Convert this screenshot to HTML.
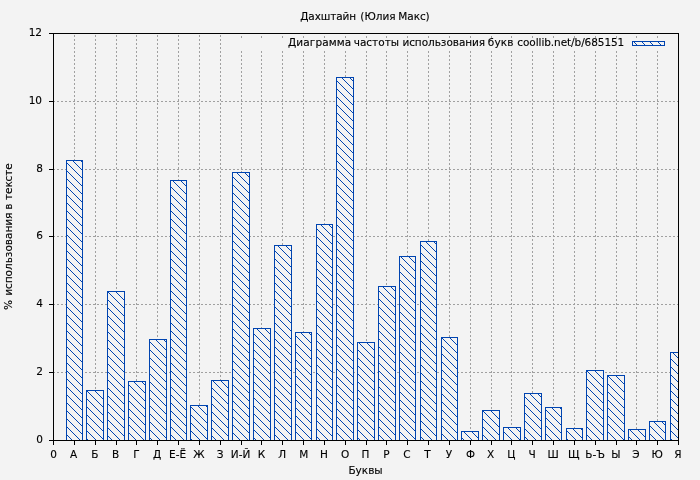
<!DOCTYPE html>
<html lang="ru"><head><meta charset="utf-8"><title>Дахштайн (Юлия Макс)</title>
<style>html,body{margin:0;padding:0;background:#f3f3f3;overflow:hidden}svg{display:block}text{font-family:"DejaVu Sans","Liberation Sans",sans-serif;font-size:10.5px;fill:#000;stroke:#000;stroke-width:0.12px}</style></head><body>
<svg width="700" height="480" viewBox="0 0 700 480">
<defs><pattern id="h" width="8" height="8" patternUnits="userSpaceOnUse"><path d="M-1,-1 L9,9 M-1,7 L1,9 M7,-1 L9,1" stroke="#0044b0" stroke-width="1" fill="none"/></pattern>
<clipPath id="c"><rect x="53.50" y="33.50" width="625.50" height="407.00"/></clipPath></defs>
<rect width="700" height="480" fill="#f3f3f3"/>
<path d="M74.50,441 V33 M95.50,441 V33 M116.50,441 V33 M136.50,441 V33 M157.50,441 V33 M178.50,441 V33 M199.50,441 V33 M220.50,441 V33 M241.50,441 V51 M241.50,38 V33 M261.50,441 V51 M261.50,38 V33 M282.50,441 V51 M282.50,38 V33 M303.50,441 V51 M303.50,38 V33 M324.50,441 V51 M324.50,38 V33 M345.50,441 V51 M345.50,38 V33 M366.50,441 V51 M366.50,38 V33 M386.50,441 V51 M386.50,38 V33 M407.50,441 V51 M407.50,38 V33 M428.50,441 V51 M428.50,38 V33 M449.50,441 V51 M449.50,38 V33 M470.50,441 V51 M470.50,38 V33 M491.50,441 V51 M491.50,38 V33 M511.50,441 V51 M511.50,38 V33 M532.50,441 V51 M532.50,38 V33 M553.50,441 V51 M553.50,38 V33 M574.50,441 V51 M574.50,38 V33 M595.50,441 V51 M595.50,38 V33 M616.50,441 V51 M616.50,38 V33 M636.50,441 V51 M636.50,38 V33 M657.50,441 V51 M657.50,38 V33 M53,372.50 H679 M53,304.50 H679 M53,236.50 H679 M53,169.50 H679 M53,101.50 H679" stroke="#a0a0a0" stroke-width="1" stroke-dasharray="2 2" fill="none" shape-rendering="crispEdges"/>
<g clip-path="url(#c)">
<rect x="66.5" y="160.5" width="16.0" height="280.0" fill="#f3f3f3"/>
<rect x="66.5" y="160.5" width="16.0" height="280.0" fill="url(#h)" stroke="#0044b0" stroke-width="1"/>
<rect x="86.5" y="390.5" width="17.0" height="50.0" fill="#f3f3f3"/>
<rect x="86.5" y="390.5" width="17.0" height="50.0" fill="url(#h)" stroke="#0044b0" stroke-width="1"/>
<rect x="107.5" y="291.5" width="17.0" height="149.0" fill="#f3f3f3"/>
<rect x="107.5" y="291.5" width="17.0" height="149.0" fill="url(#h)" stroke="#0044b0" stroke-width="1"/>
<rect x="128.5" y="381.5" width="17.0" height="59.0" fill="#f3f3f3"/>
<rect x="128.5" y="381.5" width="17.0" height="59.0" fill="url(#h)" stroke="#0044b0" stroke-width="1"/>
<rect x="149.5" y="339.5" width="17.0" height="101.0" fill="#f3f3f3"/>
<rect x="149.5" y="339.5" width="17.0" height="101.0" fill="url(#h)" stroke="#0044b0" stroke-width="1"/>
<rect x="170.5" y="180.5" width="16.0" height="260.0" fill="#f3f3f3"/>
<rect x="170.5" y="180.5" width="16.0" height="260.0" fill="url(#h)" stroke="#0044b0" stroke-width="1"/>
<rect x="190.5" y="405.5" width="17.0" height="35.0" fill="#f3f3f3"/>
<rect x="190.5" y="405.5" width="17.0" height="35.0" fill="url(#h)" stroke="#0044b0" stroke-width="1"/>
<rect x="211.5" y="380.5" width="17.0" height="60.0" fill="#f3f3f3"/>
<rect x="211.5" y="380.5" width="17.0" height="60.0" fill="url(#h)" stroke="#0044b0" stroke-width="1"/>
<rect x="232.5" y="172.5" width="17.0" height="268.0" fill="#f3f3f3"/>
<rect x="232.5" y="172.5" width="17.0" height="268.0" fill="url(#h)" stroke="#0044b0" stroke-width="1"/>
<rect x="253.5" y="328.5" width="17.0" height="112.0" fill="#f3f3f3"/>
<rect x="253.5" y="328.5" width="17.0" height="112.0" fill="url(#h)" stroke="#0044b0" stroke-width="1"/>
<rect x="274.5" y="245.5" width="17.0" height="195.0" fill="#f3f3f3"/>
<rect x="274.5" y="245.5" width="17.0" height="195.0" fill="url(#h)" stroke="#0044b0" stroke-width="1"/>
<rect x="295.5" y="332.5" width="16.0" height="108.0" fill="#f3f3f3"/>
<rect x="295.5" y="332.5" width="16.0" height="108.0" fill="url(#h)" stroke="#0044b0" stroke-width="1"/>
<rect x="316.5" y="224.5" width="16.0" height="216.0" fill="#f3f3f3"/>
<rect x="316.5" y="224.5" width="16.0" height="216.0" fill="url(#h)" stroke="#0044b0" stroke-width="1"/>
<rect x="336.5" y="77.5" width="17.0" height="363.0" fill="#f3f3f3"/>
<rect x="336.5" y="77.5" width="17.0" height="363.0" fill="url(#h)" stroke="#0044b0" stroke-width="1"/>
<rect x="357.5" y="342.5" width="17.0" height="98.0" fill="#f3f3f3"/>
<rect x="357.5" y="342.5" width="17.0" height="98.0" fill="url(#h)" stroke="#0044b0" stroke-width="1"/>
<rect x="378.5" y="286.5" width="17.0" height="154.0" fill="#f3f3f3"/>
<rect x="378.5" y="286.5" width="17.0" height="154.0" fill="url(#h)" stroke="#0044b0" stroke-width="1"/>
<rect x="399.5" y="256.5" width="16.0" height="184.0" fill="#f3f3f3"/>
<rect x="399.5" y="256.5" width="16.0" height="184.0" fill="url(#h)" stroke="#0044b0" stroke-width="1"/>
<rect x="420.5" y="241.5" width="16.0" height="199.0" fill="#f3f3f3"/>
<rect x="420.5" y="241.5" width="16.0" height="199.0" fill="url(#h)" stroke="#0044b0" stroke-width="1"/>
<rect x="441.5" y="337.5" width="16.0" height="103.0" fill="#f3f3f3"/>
<rect x="441.5" y="337.5" width="16.0" height="103.0" fill="url(#h)" stroke="#0044b0" stroke-width="1"/>
<rect x="461.5" y="431.5" width="17.0" height="9.0" fill="#f3f3f3"/>
<rect x="461.5" y="431.5" width="17.0" height="9.0" fill="url(#h)" stroke="#0044b0" stroke-width="1"/>
<rect x="482.5" y="410.5" width="17.0" height="30.0" fill="#f3f3f3"/>
<rect x="482.5" y="410.5" width="17.0" height="30.0" fill="url(#h)" stroke="#0044b0" stroke-width="1"/>
<rect x="503.5" y="427.5" width="17.0" height="13.0" fill="#f3f3f3"/>
<rect x="503.5" y="427.5" width="17.0" height="13.0" fill="url(#h)" stroke="#0044b0" stroke-width="1"/>
<rect x="524.5" y="393.5" width="17.0" height="47.0" fill="#f3f3f3"/>
<rect x="524.5" y="393.5" width="17.0" height="47.0" fill="url(#h)" stroke="#0044b0" stroke-width="1"/>
<rect x="545.5" y="407.5" width="16.0" height="33.0" fill="#f3f3f3"/>
<rect x="545.5" y="407.5" width="16.0" height="33.0" fill="url(#h)" stroke="#0044b0" stroke-width="1"/>
<rect x="566.5" y="428.5" width="16.0" height="12.0" fill="#f3f3f3"/>
<rect x="566.5" y="428.5" width="16.0" height="12.0" fill="url(#h)" stroke="#0044b0" stroke-width="1"/>
<rect x="586.5" y="370.5" width="17.0" height="70.0" fill="#f3f3f3"/>
<rect x="586.5" y="370.5" width="17.0" height="70.0" fill="url(#h)" stroke="#0044b0" stroke-width="1"/>
<rect x="607.5" y="375.5" width="17.0" height="65.0" fill="#f3f3f3"/>
<rect x="607.5" y="375.5" width="17.0" height="65.0" fill="url(#h)" stroke="#0044b0" stroke-width="1"/>
<rect x="628.5" y="429.5" width="17.0" height="11.0" fill="#f3f3f3"/>
<rect x="628.5" y="429.5" width="17.0" height="11.0" fill="url(#h)" stroke="#0044b0" stroke-width="1"/>
<rect x="649.5" y="421.5" width="16.0" height="19.0" fill="#f3f3f3"/>
<rect x="649.5" y="421.5" width="16.0" height="19.0" fill="url(#h)" stroke="#0044b0" stroke-width="1"/>
<rect x="670.5" y="352.5" width="16.0" height="88.0" fill="#f3f3f3"/>
<rect x="670.5" y="352.5" width="16.0" height="88.0" fill="url(#h)" stroke="#0044b0" stroke-width="1"/>
</g>
<rect x="632.5" y="41.5" width="32" height="4" fill="url(#h)" stroke="#0044b0" stroke-width="1"/>
<path d="M53.5,33.5 H678.5 V440.5 H53.5 Z M53.50,440.5 v4.5 M74.50,440.5 v4.5 M95.50,440.5 v4.5 M116.50,440.5 v4.5 M136.50,440.5 v4.5 M157.50,440.5 v4.5 M178.50,440.5 v4.5 M199.50,440.5 v4.5 M220.50,440.5 v4.5 M241.50,440.5 v4.5 M261.50,440.5 v4.5 M282.50,440.5 v4.5 M303.50,440.5 v4.5 M324.50,440.5 v4.5 M345.50,440.5 v4.5 M366.50,440.5 v4.5 M386.50,440.5 v4.5 M407.50,440.5 v4.5 M428.50,440.5 v4.5 M449.50,440.5 v4.5 M470.50,440.5 v4.5 M491.50,440.5 v4.5 M511.50,440.5 v4.5 M532.50,440.5 v4.5 M553.50,440.5 v4.5 M574.50,440.5 v4.5 M595.50,440.5 v4.5 M616.50,440.5 v4.5 M636.50,440.5 v4.5 M657.50,440.5 v4.5 M678.50,440.5 v4.5 M53.5,440.50 h-4.5 M53.5,372.50 h-4.5 M53.5,304.50 h-4.5 M53.5,236.50 h-4.5 M53.5,169.50 h-4.5 M53.5,101.50 h-4.5 M53.5,33.50 h-4.5" stroke="#000" stroke-width="1" fill="none" shape-rendering="crispEdges"/>
<text y="20" xml:space="preserve"><tspan x="300.30" textLength="55.70" lengthAdjust="spacing">Дахштайн</tspan> <tspan x="360.35" textLength="35.30" lengthAdjust="spacing">(Юлия</tspan> <tspan x="398.30" textLength="31.40" lengthAdjust="spacing">Макс)</tspan></text>
<text y="46.4" xml:space="preserve"><tspan x="288.00" textLength="63.20" lengthAdjust="spacing">Диаграмма</tspan> <tspan x="353.69" textLength="45.36" lengthAdjust="spacing">частоты</tspan> <tspan x="402.39" textLength="82.80" lengthAdjust="spacing">использования</tspan> <tspan x="487.80" textLength="25.60" lengthAdjust="spacing">букв</tspan> <tspan x="517.30" textLength="107.00" lengthAdjust="spacing">coollib.net/b/685151</tspan></text>
<text x="43" y="443" text-anchor="end">0</text>
<text x="43" y="375" text-anchor="end">2</text>
<text x="43" y="307" text-anchor="end">4</text>
<text x="43" y="239" text-anchor="end">6</text>
<text x="43" y="172" text-anchor="end">8</text>
<text x="42" y="104" text-anchor="end">10</text>
<text x="42" y="36" text-anchor="end">12</text>
<text x="53.6" y="458" text-anchor="middle">0</text>
<text x="73.6" y="458" text-anchor="middle">А</text>
<text x="94.8" y="458" text-anchor="middle">Б</text>
<text x="115.6" y="458" text-anchor="middle">В</text>
<text x="136.4" y="458" text-anchor="middle">Г</text>
<text x="157.2" y="458" text-anchor="middle">Д</text>
<text x="177.6" y="458" text-anchor="middle">Е-Ё</text>
<text x="198.9" y="458" text-anchor="middle">Ж</text>
<text x="220.2" y="458" text-anchor="middle">З</text>
<text x="240.6" y="458" text-anchor="middle">И-Й</text>
<text x="261.4" y="458" text-anchor="middle">К</text>
<text x="282.2" y="458" text-anchor="middle">Л</text>
<text x="303.8" y="458" text-anchor="middle">М</text>
<text x="323.9" y="458" text-anchor="middle">Н</text>
<text x="345.2" y="458" text-anchor="middle">О</text>
<text x="365.5" y="458" text-anchor="middle">П</text>
<text x="386.4" y="458" text-anchor="middle">Р</text>
<text x="406.8" y="458" text-anchor="middle">С</text>
<text x="427.5" y="458" text-anchor="middle">Т</text>
<text x="448.9" y="458" text-anchor="middle">У</text>
<text x="470.4" y="458" text-anchor="middle">Ф</text>
<text x="490.5" y="458" text-anchor="middle">Х</text>
<text x="511.4" y="458" text-anchor="middle">Ц</text>
<text x="532.2" y="458" text-anchor="middle">Ч</text>
<text x="553.0" y="458" text-anchor="middle">Ш</text>
<text x="573.8" y="458" text-anchor="middle">Щ</text>
<text x="595.1" y="458" text-anchor="middle">Ь-Ъ</text>
<text x="616.0" y="458" text-anchor="middle">Ы</text>
<text x="635.8" y="458" text-anchor="middle">Э</text>
<text x="657.2" y="458" text-anchor="middle">Ю</text>
<text x="678.0" y="458" text-anchor="middle">Я</text>
<text x="365.5" y="474" text-anchor="middle">Буквы</text>
<text transform="translate(12,310) rotate(-90)" xml:space="preserve"><tspan x="0.10" textLength="9.98" lengthAdjust="spacing">%</tspan> <tspan x="14.20" textLength="83.20" lengthAdjust="spacing">использования</tspan> <tspan x="100.30" textLength="6.19" lengthAdjust="spacing">в</tspan> <tspan x="110.10" textLength="36.60" lengthAdjust="spacing">тексте</tspan></text>
</svg></body></html>
